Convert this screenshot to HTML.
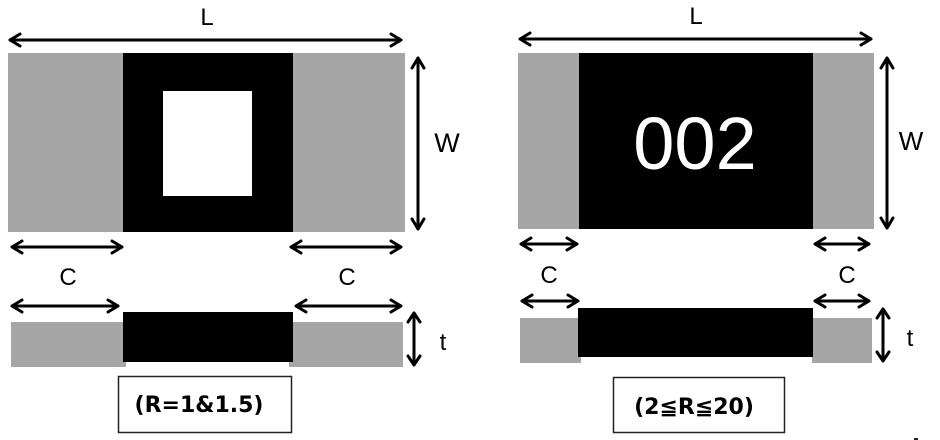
<!DOCTYPE html>
<html><head><meta charset="utf-8"><style>
html,body{margin:0;padding:0;background:#fff;}
svg{display:block;}
.t{font-family:"Liberation Sans",sans-serif;font-size:24px;fill:#000;}
.b{font-family:"DejaVu Sans","Liberation Sans","Noto Sans CJK JP",sans-serif;font-weight:bold;font-size:22px;fill:#000;}
.a{fill:none;stroke:#000;stroke-width:3;stroke-linecap:round;stroke-linejoin:round;}
</style></head><body>
<svg width="940" height="440" viewBox="0 0 940 440" xmlns="http://www.w3.org/2000/svg">
<!-- LEFT TOP VIEW -->
<rect x="8" y="53" width="397" height="179" fill="#a6a6a6"/>
<rect x="123" y="53" width="170" height="179" fill="#000"/>
<rect x="163" y="91" width="89" height="105" fill="#fff"/>
<text class="t" x="207" y="25" text-anchor="middle">L</text>
<path class="a" d="M10 40 L401 40 M20 34 L10 40 L20 46 M391 34 L401 40 L391 46"/>
<path class="a" d="M418 58 L418 229 M412 68 L418 58 L424 68 M412 219 L418 229 L424 219"/>
<text class="t" x="447" y="152" text-anchor="middle" style="font-size:27px">W</text>
<!-- LEFT C arrows -->
<path class="a" d="M12 247 L122 247 M22 241 L12 247 L22 253 M112 241 L122 247 L112 253"/>
<path class="a" d="M291 247 L401 247 M301 241 L291 247 L301 253 M391 241 L401 247 L391 253"/>
<text class="t" x="68" y="285" text-anchor="middle">C</text>
<text class="t" x="347" y="285" text-anchor="middle">C</text>
<path class="a" d="M12 306 L118 306 M22 300 L12 306 L22 312 M108 300 L118 306 L108 312"/>
<path class="a" d="M296 306 L401 306 M306 300 L296 306 L306 312 M391 300 L401 306 L391 312"/>
<!-- LEFT SIDE VIEW -->
<rect x="11" y="322" width="115" height="45" fill="#a6a6a6"/>
<rect x="289" y="322" width="114" height="45" fill="#a6a6a6"/>
<rect x="123" y="312" width="170" height="50" fill="#000"/>
<path class="a" d="M414 313 L414 365 M408 322 L414 313 L420 322 M408 356 L414 365 L420 356"/>
<text class="t" x="443" y="350" text-anchor="middle">t</text>
<rect x="118.5" y="376.5" width="173" height="56" fill="#fff" stroke="#222" stroke-width="1.5"/>
<text class="b" x="199" y="412" text-anchor="middle">(R=1&amp;1.5)</text>

<!-- RIGHT TOP VIEW -->
<rect x="518" y="53" width="356" height="176" fill="#a6a6a6"/>
<rect x="579" y="53" width="234" height="176" fill="#000"/>
<text x="695" y="169" text-anchor="middle" style="font-family:'Liberation Sans',sans-serif;font-size:74px;fill:#fff">002</text>
<text class="t" x="696" y="24" text-anchor="middle">L</text>
<path class="a" d="M520 39 L871 39 M530 33 L520 39 L530 45 M861 33 L871 39 L861 45"/>
<path class="a" d="M887 58 L887 228 M881 68 L887 58 L893 68 M881 218 L887 228 L893 218"/>
<text class="t" x="911" y="150" text-anchor="middle" style="font-size:26px">W</text>
<!-- RIGHT C arrows -->
<path class="a" d="M521 244 L577 244 M531 238 L521 244 L531 250 M567 238 L577 244 L567 250"/>
<path class="a" d="M815 244 L869 244 M825 238 L815 244 L825 250 M859 238 L869 244 L859 250"/>
<text class="t" x="549" y="283" text-anchor="middle">C</text>
<text class="t" x="847" y="283" text-anchor="middle">C</text>
<path class="a" d="M522 301 L578 301 M532 295 L522 301 L532 307 M568 295 L578 301 L568 307"/>
<path class="a" d="M815 301 L869 301 M825 295 L815 301 L825 307 M859 295 L869 301 L859 307"/>
<!-- RIGHT SIDE VIEW -->
<rect x="520" y="318" width="61" height="45" fill="#a6a6a6"/>
<rect x="812" y="318" width="60" height="45" fill="#a6a6a6"/>
<rect x="578" y="308" width="235" height="49" fill="#000"/>
<path class="a" d="M883 309 L883 361 M877 318 L883 309 L889 318 M877 352 L883 361 L889 352"/>
<text class="t" x="910" y="346" text-anchor="middle">t</text>
<rect x="613.5" y="377.5" width="171" height="55" fill="#fff" stroke="#222" stroke-width="1.5"/>
<text class="b" x="694" y="414" text-anchor="middle">(2≦R≦20)</text>
<rect x="914" y="438" width="4" height="2" fill="#222"/>
</svg>
</body></html>
